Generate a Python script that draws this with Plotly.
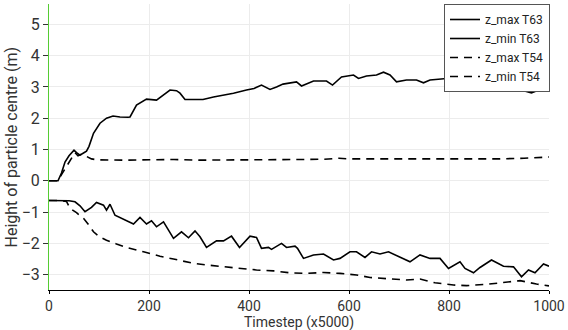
import plotly.graph_objects as go

# ---- data ----
t_max63 = [0, 18, 25, 32, 40, 50, 55, 62, 69, 75, 80, 89, 102, 115, 128, 142, 158, 162, 175, 195, 215,
           230, 242, 255, 262, 272, 290, 308, 329, 350, 369, 395, 410, 425, 442, 455, 468, 495, 505,
           529, 555, 567, 585, 609, 619, 635, 655, 669, 682, 695, 715, 735, 749, 762, 795, 802, 822,
           849, 862, 889, 915, 935, 965, 982, 1000]
z_max63 = [0, 0, 0.25, 0.6, 0.8, 0.98, 0.9, 0.82, 0.89, 0.95, 1.1, 1.52, 1.84, 2.0, 2.07, 2.04, 2.03,
           2.04, 2.42, 2.61, 2.58, 2.75, 2.9, 2.88, 2.8, 2.6, 2.6, 2.6, 2.68, 2.74, 2.8, 2.9, 2.95,
           3.06, 2.92, 3.0, 3.09, 3.16, 3.03, 3.19, 3.19, 3.06, 3.32, 3.38, 3.27, 3.35, 3.38, 3.47,
           3.38, 3.16, 3.22, 3.22, 3.13, 3.22, 3.27, 3.11, 3.06, 2.92, 2.98, 3.09, 3.03, 2.95, 2.81,
           2.92, 2.88]

t_min63 = [0, 20, 40, 52, 62, 72, 85, 95, 109, 115, 122, 132, 149, 169, 182, 195, 205, 215, 229, 249,
           265, 279, 292, 302, 315, 335, 349, 365, 381, 402, 415, 425, 439, 445, 465, 475, 492, 497,
           509, 529, 549, 569, 582, 602, 615, 632, 645, 662, 679, 702, 722, 742, 762, 782, 799, 822,
           832, 849, 862, 885, 909, 929, 945, 959, 972, 989, 1000]
z_min63 = [-0.63, -0.63, -0.64, -0.67, -0.8, -0.99, -0.85, -0.69, -0.78, -0.94, -0.75, -1.1, -1.23,
           -1.38, -1.17, -1.38, -1.28, -1.47, -1.31, -1.84, -1.63, -1.82, -1.6, -1.79, -2.13, -1.92,
           -1.92, -1.77, -2.13, -1.77, -1.81, -2.16, -2.13, -2.19, -2.0, -2.13, -2.09, -2.16, -2.48,
           -2.37, -2.34, -2.53, -2.48, -2.27, -2.27, -2.45, -2.27, -2.34, -2.27, -2.43, -2.59, -2.37,
           -2.48, -2.48, -2.8, -2.59, -2.8, -2.94, -2.77, -2.53, -2.73, -2.75, -3.07, -2.85, -2.94,
           -2.66, -2.73]

t_max54 = [0, 18, 25, 35, 45, 52, 58, 65, 75, 85, 92, 100, 150, 200, 250, 300, 350, 400, 450, 500,
           550, 580, 600, 650, 700, 750, 800, 850, 900, 950, 990, 1000]
z_max54 = [0, 0, 0.2, 0.45, 0.7, 0.9, 0.8, 0.85, 0.78, 0.7, 0.68, 0.67, 0.66, 0.67, 0.68, 0.66, 0.66,
           0.67, 0.67, 0.68, 0.69, 0.72, 0.7, 0.7, 0.69, 0.7, 0.7, 0.71, 0.7, 0.72, 0.76, 0.76]

t_min54 = [0, 20, 35, 42, 55, 69, 80, 89, 100, 115, 135, 155, 189, 222, 249, 289, 315, 349, 382, 415,
           449, 482, 515, 549, 582, 615, 642, 675, 715, 742, 772, 809, 835, 875, 909, 942, 975, 995, 1000]
z_min54 = [-0.63, -0.63, -0.66, -0.88, -1.02, -1.2, -1.42, -1.63, -1.78, -1.9, -2.02, -2.13, -2.27,
           -2.41, -2.5, -2.64, -2.69, -2.75, -2.8, -2.85, -2.88, -2.94, -2.96, -2.93, -2.96, -3.01,
           -3.09, -3.12, -3.17, -3.14, -3.26, -3.33, -3.35, -3.31, -3.26, -3.19, -3.3, -3.36, -3.36]

series = [
    ("z_max T63", t_max63, z_max63, "solid"),
    ("z_min T63", t_min63, z_min63, "solid"),
    ("z_max T54", t_max54, z_max54, "8px,6px"),
    ("z_min T54", t_min54, z_min54, "8px,6px"),
]

x_ticks = [0, 200, 400, 600, 800, 1000]
y_ticks = [-3, -2, -1, 0, 1, 2, 3, 4, 5]
x_title = "Timestep (x5000)"
y_title = "Height of particle centre (m)"

FONT = "Roboto, sans-serif"

fig = go.Figure()
for name, tx, zv, dash in series:
    fig.add_trace(go.Scatter(x=tx, y=zv, name=name, mode="lines",
                             line=dict(color="black", width=1.6, dash=dash)))

fig.update_layout(
    width=568, height=330, autosize=False,
    margin=dict(l=49, r=19, t=4, b=40),
    paper_bgcolor="white", plot_bgcolor="white",
    font=dict(family=FONT, size=15, color="#333333"),
    legend=dict(x=1.002, y=1, xanchor="right", yanchor="top",
                bordercolor="#555555", borderwidth=1, bgcolor="white",
                font=dict(family=FONT, size=12, color="#222222"),
                tracegroupgap=0),
    showlegend=True,
    annotations=[
        dict(text=x_title, xref="paper", yref="paper", x=0.5, y=0, yshift=-23,
             xanchor="center", yanchor="top", showarrow=False, borderpad=0,
             font=dict(family=FONT, size=14, color="#333333")),
        dict(text=y_title, xref="paper", yref="paper", x=0, y=0.5, xshift=-27,
             xanchor="right", yanchor="middle", textangle=-90, showarrow=False,
             font=dict(family=FONT, size=16, color="#333333")),
    ],
)
fig.update_xaxes(range=[0, 1000], tickvals=x_ticks, showgrid=True, gridcolor="#ececec",
                 showline=True, linecolor="black", linewidth=1, ticks="outside", ticklen=3,
                 tickcolor="black", zeroline=False, automargin=False, tickfont=dict(size=14))
fig.update_yaxes(range=[-3.49, 5.65], tickvals=y_ticks, showgrid=True, gridcolor="#ececec",
                 showline=True, linecolor="#55cc33", linewidth=1, ticks="outside", ticklen=5,
                 tickcolor="#333333", zeroline=False, automargin=False, tickfont=dict(size=16))

fig.write_html("out.html", config={"displayModeBar": False},
               post_script="document.body.style.margin='0';")
